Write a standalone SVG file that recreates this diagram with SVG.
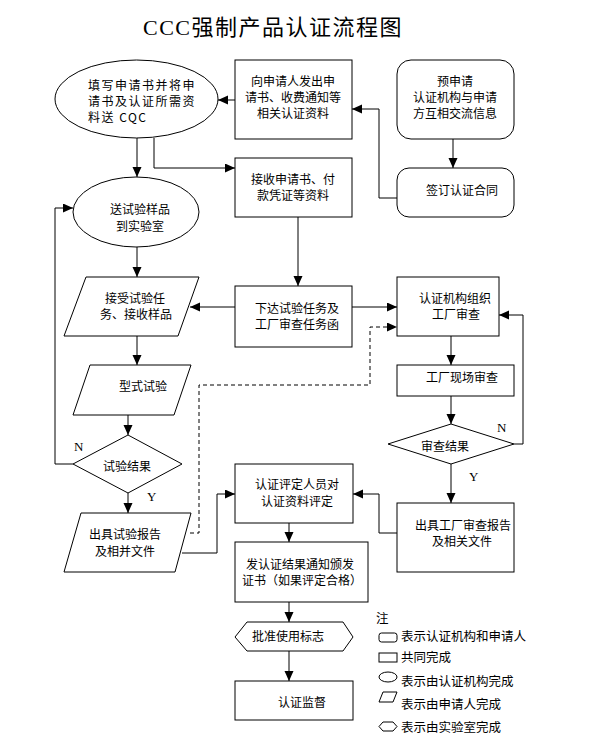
<svg xmlns="http://www.w3.org/2000/svg" width="597" height="753" viewBox="0 0 597 753">
<defs>
<marker id="ah" markerUnits="userSpaceOnUse" markerWidth="11" markerHeight="10" refX="10" refY="4.5" orient="auto">
<path d="M0,0 L10,4.5 L0,9 z" fill="#000"/>
</marker>
<style>
.s{fill:#fff;stroke:#000;stroke-width:1}
.t{font-family:"Noto Sans CJK SC","Liberation Sans",sans-serif;font-size:12px;fill:#000;text-anchor:middle}
.tl{font-family:"Noto Sans CJK SC","Liberation Sans",sans-serif;font-size:12px;fill:#000;letter-spacing:1.5px}
.lg{font-family:"Noto Sans CJK SC","Liberation Sans",sans-serif;font-size:12.5px;fill:#000}
.yn{font-family:"Liberation Serif",serif;font-size:13px;fill:#000}
.c{fill:none;stroke:#000;stroke-width:1}
.ca{fill:none;stroke:#000;stroke-width:1;marker-end:url(#ah)}
.d{fill:none;stroke:#000;stroke-width:1;stroke-dasharray:4,3;marker-end:url(#ah)}
</style>
</defs>
<rect width="597" height="753" fill="#fff"/>
<text x="273" y="35" style="font-family:'Liberation Serif','Noto Sans CJK SC',serif;font-size:22px;letter-spacing:1.5px;text-anchor:middle">CCC强制产品认证流程图</text>

<g id="connectors">
<path class="ca" d="M453,139 L453,168"/>
<path class="ca" d="M397,198 L379,198 L379,109 L352,109"/>
<path class="ca" d="M235,100 L218,100"/>
<path class="ca" d="M137,138 L137,177"/>
<path class="ca" d="M154,138 L154,168 L235,168"/>
<path class="ca" d="M298,217 L298,286"/>
<path class="ca" d="M235,307 L190,307"/>
<path class="ca" d="M137,247 L137,277"/>
<path class="ca" d="M137,336 L137,365"/>
<path class="ca" d="M128,415 L128,435"/>
<path class="ca" d="M73,464 L55,464 L55,208 L73,208"/>
<path class="ca" d="M128,493 L128,513"/>
<path class="d" d="M190,533 L199,533 L199,385 L370,385 L370,327 L397,327"/>
<path class="ca" d="M182,553 L217,553 L217,494 L235,494"/>
<path class="ca" d="M352,307 L397,307"/>
<path class="ca" d="M451,336 L451,365"/>
<path class="ca" d="M451,396 L451,424"/>
<path class="ca" d="M514,444 L523,444 L523,315 L499,315"/>
<path class="ca" d="M451,464 L451,503"/>
<path class="ca" d="M397,533 L379,533 L379,494 L353,494"/>
<path class="ca" d="M289,523 L289,542"/>
<path class="ca" d="M289,602 L289,622"/>
<path class="ca" d="M289,651 L289,681"/>
<text class="yn" x="74" y="451">N</text>
<text class="yn" x="147" y="501">Y</text>
<text class="yn" x="497" y="432">N</text>
<text class="yn" x="469" y="481">Y</text>
</g>

<g id="n1">
<ellipse class="s" cx="136.5" cy="99" rx="81.5" ry="39"/>
<text class="tl" x="88" y="89.5">填写申请书并将申</text>
<text class="tl" x="88" y="105.5">请书及认证所需资</text>
<text class="tl" x="88" y="121.5">料送 CQC</text>
</g>
<g id="n2">
<rect class="s" x="235" y="60" width="117" height="79"/>
<text class="t" x="293" y="86">向申请人发出申</text>
<text class="t" x="293" y="102">请书、收费通知等</text>
<text class="t" x="293" y="118">相关认证资料</text>
</g>
<g id="n3">
<rect class="s" x="397" y="60" width="117" height="79" rx="14"/>
<text class="t" x="455" y="86">预申请</text>
<text class="t" x="455" y="102">认证机构与申请</text>
<text class="t" x="455" y="118">方互相交流信息</text>
</g>
<g id="n4">
<rect class="s" x="397" y="168" width="117" height="49" rx="12"/>
<text class="t" x="462" y="195">签订认证合同</text>
</g>
<g id="n5">
<rect class="s" x="235" y="158" width="117" height="59"/>
<text class="t" x="293" y="183.5">接收申请书、付</text>
<text class="t" x="293" y="199.5">款凭证等资料</text>
</g>
<g id="n6">
<ellipse class="s" cx="136" cy="212" rx="63" ry="35"/>
<text class="t" x="140" y="214">送试验样品</text>
<text class="t" x="140" y="231">到实验室</text>
</g>
<g id="n7">
<rect class="s" x="235" y="286" width="117" height="61"/>
<text class="t" x="297" y="313">下达试验任务及</text>
<text class="t" x="297" y="329">工厂审查任务函</text>
</g>
<g id="n8">
<polygon class="s" points="86,277 199,277 178,336 64,336"/>
<text class="t" x="135" y="303">接受试验任</text>
<text class="t" x="136" y="319">务、接收样品</text>
</g>
<g id="n9">
<polygon class="s" points="90,365 191,365 174,415 73,415"/>
<text class="t" x="143" y="391">型式试验</text>
</g>
<g id="n10">
<polygon class="s" points="73,464 128,435 182,464 128,493"/>
<text class="t" x="127" y="471">试验结果</text>
</g>
<g id="n11">
<polygon class="s" points="81,513 191,513 175,572 64,572"/>
<text class="t" x="125" y="539">出具试验报告</text>
<text class="t" x="125" y="556">及相并文件</text>
</g>
<g id="n12">
<rect class="s" x="397" y="277" width="102" height="59"/>
<text class="t" x="455" y="303">认证机构组织</text>
<text class="t" x="456" y="319">工厂审查</text>
</g>
<g id="n13">
<rect class="s" x="397" y="365" width="117" height="31"/>
<text class="t" x="462" y="382">工厂现场审查</text>
</g>
<g id="n14">
<polygon class="s" points="388,444 451,424 514,444 451,464"/>
<text class="t" x="445" y="451">审查结果</text>
</g>
<g id="n15">
<rect class="s" x="397" y="503" width="117" height="69"/>
<text class="t" x="463" y="530">出具工厂审查报告</text>
<text class="t" x="462" y="546">及相关文件</text>
</g>
<g id="n16">
<rect class="s" x="235" y="464" width="118" height="59"/>
<text class="t" x="297" y="489">认证评定人员对</text>
<text class="t" x="297" y="506">认证资料评定</text>
</g>
<g id="n17">
<rect class="s" x="235" y="542" width="133" height="60"/>
<text class="t" x="300" y="569">发认证结果通知颁发</text>
<text class="t" x="302" y="585">证书（如果评定合格）</text>
</g>
<g id="n18">
<polygon class="s" points="235,637 247,622 343,622 353,637 343,651 247,651"/>
<text class="t" x="288" y="641">批准使用标志</text>
</g>
<g id="n19">
<rect class="s" x="235" y="681" width="118" height="39"/>
<text class="t" x="302" y="707">认证监督</text>
</g>

<g id="legend">
<text class="lg" x="376" y="623">注</text>
<rect class="s" x="379" y="633" width="18" height="9" rx="2.5"/>
<text class="lg" x="401" y="641">表示认证机构和申请人</text>
<rect class="s" x="379" y="653" width="18" height="9"/>
<text class="lg" x="401" y="662">共同完成</text>
<ellipse class="s" cx="388" cy="677" rx="9" ry="5"/>
<text class="lg" x="401" y="686">表示由认证机构完成</text>
<polygon class="s" points="383,692 397,692 393,702 379,702"/>
<text class="lg" x="401" y="709">表示由申请人完成</text>
<polygon class="s" points="379,726.5 383,722 393,722 397,726.5 393,731 383,731"/>
<text class="lg" x="401" y="732">表示由实验室完成</text>
</g>
</svg>
